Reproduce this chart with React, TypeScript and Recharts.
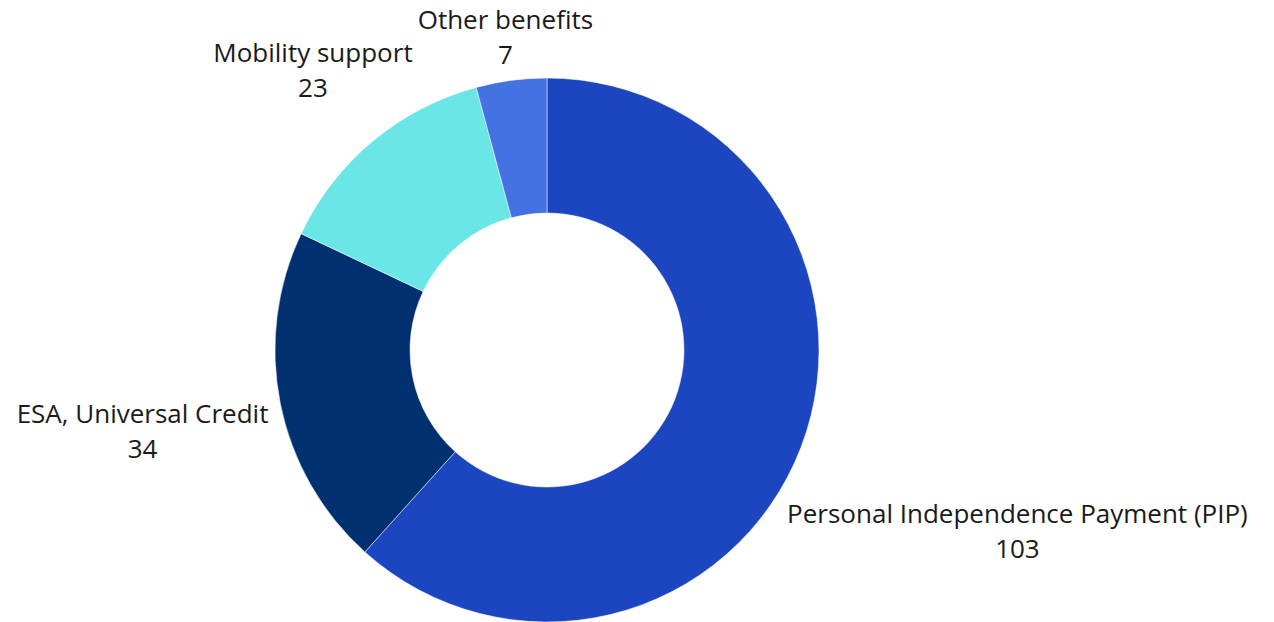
import React from "react";
import { PieChart, Pie, Cell } from "recharts";

const categories = [
  "Personal Independence Payment (PIP)",
  "ESA, Universal Credit",
  "Mobility support",
  "Other benefits",
];
const values = [103, 34, 23, 7];
const colors = ["#1c45c0", "#00306f", "#6ae6e7", "#4472e2"];

const data = categories.map((name, i) => ({ name, value: values[i] }));

const FONT_SIZE = 26;
const LINE_GAP = 35;
const BOX_H = 62;
const LABEL_GAP = 11;
const FONT = "'Open Sans', 'Noto Sans', sans-serif";

let ctx: CanvasRenderingContext2D | null = null;
function measure(text: string): number {
  if (!ctx) {
    const c = document.createElement("canvas");
    ctx = c.getContext("2d");
  }
  if (!ctx) return text.length * 13.3;
  ctx.font = `${FONT_SIZE}px 'Open Sans'`;
  return ctx.measureText(text).width;
}

const RADIAN = Math.PI / 180;

function boxDist(cxx: number, cyy: number, hw: number, hh: number) {
  const dx = Math.max(Math.abs(cxx) - hw, 0);
  const dy = Math.max(Math.abs(cyy) - hh, 0);
  return Math.sqrt(dx * dx + dy * dy);
}

const renderLabel = (props: any) => {
  const { cx, cy, midAngle, outerRadius, name, value } = props;
  const cos = Math.cos(-midAngle * RADIAN);
  const sin = Math.sin(-midAngle * RADIAN);
  const R = outerRadius + LABEL_GAP;
  const w = Math.max(measure(String(name)), measure(String(value)));
  const hw = w / 2;
  const hh = BOX_H / 2;
  let lo = 0;
  let hi = 3000;
  for (let i = 0; i < 60; i++) {
    const mid = (lo + hi) / 2;
    if (boxDist(mid * cos, mid * sin, hw, hh) < R) lo = mid;
    else hi = mid;
  }
  const d = (lo + hi) / 2;
  const x = cx + d * cos;
  const y = cy + d * sin;
  return (
    <text
      x={x}
      y={y}
      textAnchor="middle"
      fill="#1a1a1a"
      fontFamily={FONT}
      fontSize={FONT_SIZE}
    >
      <tspan x={x} y={y - LINE_GAP / 2} dominantBaseline="central">
        {name}
      </tspan>
      <tspan x={x} y={y + LINE_GAP / 2} dominantBaseline="central">
        {value}
      </tspan>
    </text>
  );
};

export default function App() {
  return (
    <div style={{ position: "absolute", left: 0, top: 0, width: 1274, height: 622, background: "#fff" }}>
      <PieChart width={1274} height={622} margin={{ top: 0, right: 0, bottom: 0, left: 0 }}>
        <Pie
          data={data}
          dataKey="value"
          nameKey="name"
          cx={547}
          cy={350}
          innerRadius={137}
          outerRadius={272}
          startAngle={90}
          endAngle={-270}
          stroke="#ffffff"
          strokeWidth={0.5}
          label={renderLabel}
          labelLine={false}
          isAnimationActive={false}
        >
          {data.map((d, i) => (
            <Cell key={d.name} fill={colors[i]} />
          ))}
        </Pie>
      </PieChart>
    </div>
  );
}
